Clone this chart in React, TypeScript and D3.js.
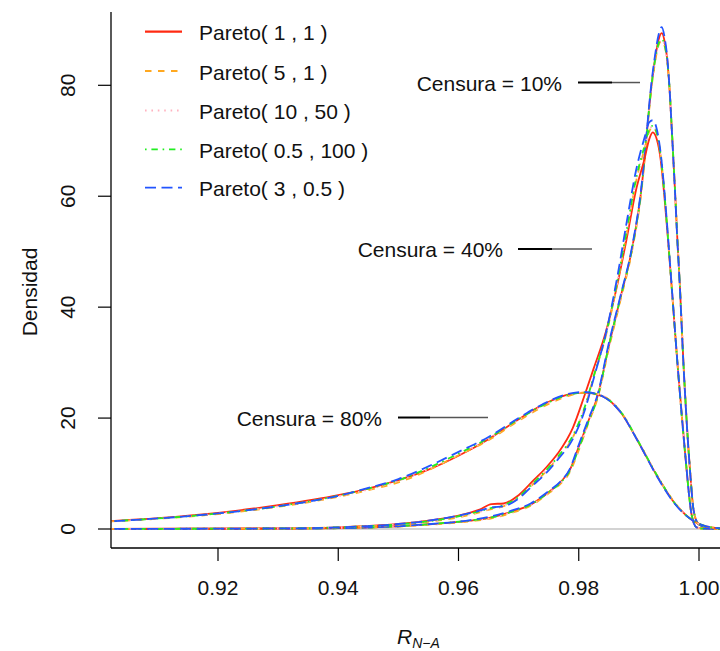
import React from "react";
import * as d3 from "d3";

// ---------- data ----------
const seriesNames = ["Pareto( 1 , 1 )", "Pareto( 5 , 1 )", "Pareto( 10 , 50 )", "Pareto( 0.5 , 100 )", "Pareto( 3 , 0.5 )"];
const xTicks = [0.92, 0.94, 0.96, 0.98, 1.0];
const yTicks = [0, 20, 40, 60, 80];
const censLabels = ["Censura = 10%", "Censura = 40%", "Censura = 80%"];

// Censura = 80%
const x80 = [0.900, 0.910, 0.920, 0.930, 0.940, 0.945, 0.950, 0.955, 0.960, 0.965, 0.970, 0.974, 0.978, 0.981, 0.984, 0.987, 0.990, 0.993, 0.996, 0.999, 1.002, 1.005];
const c80red = [1.3, 1.95, 2.9, 4.3, 6.1, 7.3, 8.8, 10.7, 13.2, 16.2, 19.8, 22.4, 24.2, 24.6, 23.9, 21.0, 15.5, 9.6, 4.6, 1.5, 0.3, 0.05];
const c80orange = [1.25, 1.85, 2.7, 4.0, 5.8, 7.0, 8.4, 10.6, 13.3, 16.0, 19.5, 22.0, 23.9, 24.6, 24.0, 21.1, 15.6, 9.7, 4.7, 1.5, 0.3, 0.05];
const c80pink = [1.25, 1.9, 2.8, 4.1, 5.9, 7.1, 8.7, 10.8, 13.4, 16.2, 19.7, 22.2, 24.0, 24.7, 24.0, 21.2, 15.6, 9.6, 4.6, 1.5, 0.3, 0.05];
const c80green = [1.3, 1.9, 2.8, 4.1, 6.0, 7.3, 8.8, 11.0, 13.6, 16.4, 19.8, 22.3, 24.1, 24.6, 23.9, 21.1, 15.6, 9.7, 4.6, 1.5, 0.3, 0.05];
const c80blue = [1.25, 1.9, 2.8, 4.1, 6.0, 7.4, 9.0, 11.3, 13.9, 16.6, 20.0, 22.5, 24.3, 24.7, 23.9, 21.0, 15.5, 9.5, 4.5, 1.5, 0.3, 0.05];

// Censura = 40%
const x40 = [0.900, 0.930, 0.940, 0.950, 0.955, 0.960, 0.9635, 0.9655, 0.9675, 0.970, 0.9725, 0.9745, 0.9765, 0.979, 0.981, 0.9825, 0.9845, 0.9865, 0.988, 0.9895, 0.991, 0.9917, 0.9923, 0.9930, 0.9936, 0.9942, 0.9948, 0.9955, 0.9965, 0.9977, 0.9988, 0.9996, 1.001, 1.005];
const c40red = [0.02, 0.1, 0.3, 0.9, 1.5, 2.4, 3.5, 4.5, 4.6, 6.1, 8.8, 11.0, 13.6, 18.2, 24.2, 29.0, 35.5, 44.5, 52.5, 61.0, 67.0, 70.2, 71.5, 70.2, 66.8, 60.5, 52.8, 43.0, 28.7, 13.5, 2.4, 0.3, 0.05, 0.0];
const c40orange = [0.02, 0.1, 0.3, 0.8, 1.3, 2.1, 3.0, 3.6, 4.1, 5.6, 8.2, 10.3, 12.8, 16.5, 21.8, 27.5, 34.8, 44.8, 53.5, 62.5, 68.8, 71.6, 72.5, 71.2, 67.6, 61.2, 53.2, 43.2, 28.8, 13.6, 2.4, 0.3, 0.05, 0.0];
const c40pink = [0.02, 0.1, 0.3, 0.85, 1.4, 2.2, 3.1, 3.7, 4.2, 5.7, 8.3, 10.4, 12.9, 16.6, 21.9, 27.6, 35.0, 45.0, 53.8, 62.8, 69.0, 71.8, 72.6, 71.3, 67.7, 61.3, 53.3, 43.2, 28.8, 13.6, 2.4, 0.3, 0.05, 0.0];
const c40green = [0.02, 0.1, 0.3, 0.85, 1.4, 2.3, 3.2, 3.8, 4.3, 5.8, 8.4, 10.5, 13.0, 16.8, 22.0, 27.6, 35.0, 45.2, 54.0, 63.0, 69.3, 72.0, 72.7, 71.3, 67.6, 61.1, 53.1, 43.0, 28.7, 13.5, 2.4, 0.3, 0.05, 0.0];
const c40blue = [0.02, 0.1, 0.3, 0.9, 1.5, 2.4, 3.3, 3.9, 4.1, 5.5, 8.0, 10.0, 12.5, 16.2, 21.4, 27.2, 35.2, 46.0, 55.5, 64.5, 70.8, 73.3, 73.7, 72.0, 68.0, 61.5, 53.4, 43.2, 28.8, 13.6, 2.4, 0.3, 0.05, 0.0];

// Censura = 10%
const x10 = [0.900, 0.930, 0.940, 0.950, 0.9555, 0.962, 0.9655, 0.9685, 0.972, 0.9752, 0.977, 0.9785, 0.980, 0.9815, 0.9832, 0.985, 0.987, 0.9888, 0.9905, 0.9913, 0.9919, 0.9927, 0.9933, 0.9938, 0.9943, 0.9947, 0.9951, 0.9955, 0.9960, 0.9964, 0.9968, 0.9974, 0.9985, 0.9991, 0.9999, 1.0015, 1.005];
const c10red = [0, 0.05, 0.15, 0.5, 0.9, 1.5, 2.1, 3.0, 4.4, 6.8, 8.5, 10.6, 14.8, 19.2, 24.2, 33.0, 42.0, 50.2, 62.0, 71.0, 78.0, 84.8, 88.3, 89.4, 87.8, 84.8, 79.3, 71.5, 61.2, 52.3, 44.3, 30.2, 10.7, 3.4, 0.9, 0.2, 0.02];
const c10orange = [0, 0.05, 0.15, 0.45, 0.8, 1.4, 1.9, 2.8, 4.2, 6.6, 8.2, 10.2, 14.2, 18.8, 23.8, 32.5, 41.5, 49.8, 61.6, 70.6, 77.6, 84.2, 87.3, 88.0, 87.0, 84.5, 79.4, 71.6, 61.3, 52.3, 44.3, 30.2, 10.7, 3.4, 0.9, 0.2, 0.02];
const c10pink = [0, 0.05, 0.15, 0.48, 0.85, 1.5, 2.0, 2.9, 4.3, 6.7, 8.3, 10.4, 14.4, 19.0, 24.0, 32.8, 41.8, 50.0, 61.8, 70.8, 77.8, 84.4, 87.5, 88.2, 87.1, 84.5, 79.4, 71.5, 61.2, 52.2, 44.2, 30.1, 10.6, 3.4, 0.9, 0.2, 0.02];
const c10green = [0, 0.05, 0.15, 0.5, 0.9, 1.55, 2.1, 3.0, 4.4, 6.8, 8.4, 10.5, 14.5, 19.0, 24.0, 33.0, 42.0, 50.2, 62.0, 71.0, 78.0, 84.6, 87.6, 88.3, 87.2, 84.6, 79.5, 71.6, 61.3, 52.3, 44.3, 30.2, 10.7, 3.4, 0.9, 0.2, 0.02];
const c10blue = [0, 0.05, 0.15, 0.5, 0.9, 1.6, 2.3, 3.2, 4.6, 7.0, 8.6, 10.8, 15.2, 19.5, 24.5, 33.5, 42.3, 50.5, 62.5, 71.5, 78.5, 85.5, 89.2, 90.5, 88.5, 85.2, 79.5, 71.5, 61.0, 52.0, 44.0, 30.0, 10.6, 3.4, 0.9, 0.2, 0.02];

// ---------- styles ----------
const colors = ["#ff2a12", "#ffa820", "#ffb3c0", "#22ee22", "#2255ff"];
const dashes = ["none", "6.5 6.5", "1.6 4.8", "1.6 4.8 6.4 4.8", "11 5.5"];
const FONT = "'Liberation Sans', Arial, Helvetica, sans-serif";
const FS = 21;

const groups = [
  { x: x10, ys: [c10red, c10orange, c10pink, c10green, c10blue] },
  { x: x40, ys: [c40red, c40orange, c40pink, c40green, c40blue] },
  { x: x80, ys: [c80red, c80orange, c80pink, c80green, c80blue] },
];

export default function App() {
  const W = 720, H = 651;
  const left = 111, bottom = 548, top = 12, right = 720;
  const x = d3.scaleLinear().domain([0.92, 1.0]).range([218, 699]);
  const y = d3.scaleLinear().domain([0, 80]).range([529, 85.3]);

  const line = d3
    .line<[number, number]>()
    .x((d) => x(d[0]))
    .y((d) => y(d[1]))
    .curve(d3.curveMonotoneX);

  const annY = [y(80.5), y(50.5), y(20.1)];
  const annTextEnd = [562, 503, 382];
  const annSeg = [
    [578, 612, 640],
    [518, 552, 592],
    [398, 430, 488],
  ];

  const legendY = [31.7, 71, 110.5, 149.3, 187.7];

  return (
    <svg width={W} height={H} style={{ position: "absolute", left: 0, top: 0, background: "#fff" }} fontFamily={FONT}>
      <defs>
        <clipPath id="plotclip">
          <rect x={left} y={top} width={right - left} height={bottom - top} />
        </clipPath>
      </defs>
      <rect x={0} y={0} width={W} height={H} fill="#fff" />

      {/* zero reference line */}
      <line x1={left} x2={right} y1={y(0)} y2={y(0)} stroke="#c4c4c4" strokeWidth={1.5} />

      {/* curves */}
      <g clipPath="url(#plotclip)">
        {groups.map((g, gi) =>
          g.ys.map((ys, si) => (
            <path
              key={`${gi}-${si}`}
              d={line(g.x.map((v, i) => [v, ys[i]] as [number, number])) || ""}
              fill="none"
              stroke={colors[si]}
              strokeWidth={1.8}
              strokeDasharray={dashes[si]}
            />
          ))
        )}
      </g>

      {/* axes */}
      <line x1={left} x2={left} y1={top} y2={bottom} stroke="#000" strokeWidth={1.3} />
      <line x1={left} x2={right} y1={bottom} y2={bottom} stroke="#000" strokeWidth={1.3} />
      {xTicks.map((t) => (
        <g key={`xt${t}`}>
          <line x1={x(t)} x2={x(t)} y1={bottom} y2={bottom + 13} stroke="#000" strokeWidth={1.2} />
          <text x={x(t)} y={587} textAnchor="middle" dominantBaseline="central" fontSize={FS} fill="#111">
            {t.toFixed(2)}
          </text>
        </g>
      ))}
      {yTicks.map((t) => (
        <g key={`yt${t}`}>
          <line x1={left - 13} x2={left} y1={y(t)} y2={y(t)} stroke="#000" strokeWidth={1.2} />
          <text
            transform={`translate(67,${y(t)}) rotate(-90)`}
            textAnchor="middle"
            dominantBaseline="central"
            fontSize={FS}
            fill="#111"
          >
            {t}
          </text>
        </g>
      ))}

      {/* axis titles */}
      <text transform={`translate(29,292) rotate(-90)`} textAnchor="middle" dominantBaseline="central" fontSize={FS} fill="#111">
        Densidad
      </text>
      <text x={397} y={644} fontSize={21} fontStyle="italic" fill="#111">
        R
        <tspan fontSize={14} dy={4}>
          N−A
        </tspan>
      </text>

      {/* annotations */}
      {censLabels.map((lab, i) => (
        <g key={lab}>
          <text x={annTextEnd[i]} y={annY[i] + 1} textAnchor="end" dominantBaseline="central" fontSize={FS} fill="#111">
            {lab}
          </text>
          <line x1={annSeg[i][0]} x2={annSeg[i][1]} y1={annY[i]} y2={annY[i]} stroke="#000" strokeWidth={2} />
          <line x1={annSeg[i][1]} x2={annSeg[i][2]} y1={annY[i]} y2={annY[i]} stroke="#555" strokeWidth={1.5} />
        </g>
      ))}

      {/* legend */}
      {seriesNames.map((n, i) => (
        <g key={n}>
          <line
            x1={145}
            x2={182}
            y1={legendY[i]}
            y2={legendY[i]}
            stroke={colors[i]}
            strokeWidth={i === 0 ? 2.2 : 1.8}
            strokeDasharray={dashes[i]}
          />
          <text x={199} y={legendY[i] + 1} dominantBaseline="central" fontSize={FS} fill="#111">
            {n}
          </text>
        </g>
      ))}
    </svg>
  );
}
